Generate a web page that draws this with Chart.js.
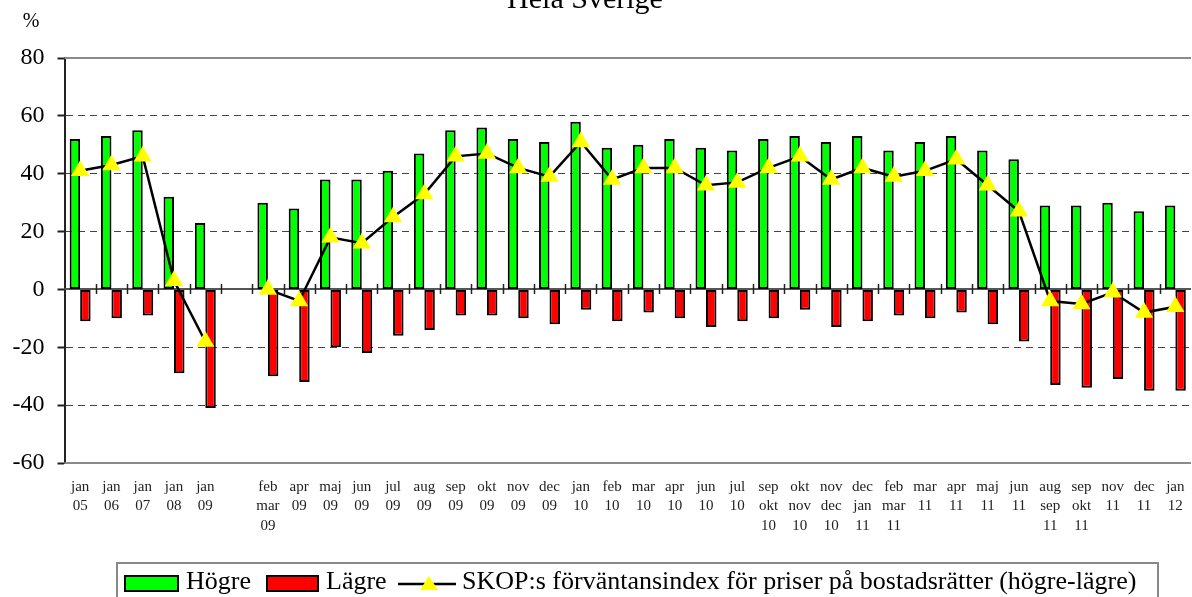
<!DOCTYPE html>
<html>
<head>
<meta charset="utf-8">
<script src="https://cdn.jsdelivr.net/npm/chart.js@4/dist/chart.umd.min.js"></script>
<style>
  html, body { margin: 0; padding: 0; background: #fff; overflow: hidden; }
  #wrap { position: relative; width: 1192px; height: 597px; }
  #legend { position: absolute; left: 116px; top: 562px; width: 1043px; height: 44px;
            border: 2px solid #888; box-sizing: border-box; font-family: "Liberation Serif", "Times New Roman", serif;
            font-size: 26px; color: #000; }
  #legend .box { position: absolute; top: 11px; height: 17px; border: 2px solid #000; box-sizing: border-box; }
  #legend .txt { position: absolute; top: 4px; line-height: 26px; white-space: nowrap; }
</style>
</head>
<body>
<div id="wrap">
  <canvas id="chart"></canvas>
  <div id="legend">
    <div class="box" style="left:6px;width:55px;background:#00FF00"></div>
    <div class="txt" style="left:68px">Högre</div>
    <div class="box" style="left:148px;width:53px;background:#FF0000"></div>
    <div class="txt" style="left:208px">Lägre</div>
    <svg style="position:absolute;left:280px;top:9px" width="60" height="20">
      <line x1="0" y1="11" x2="58" y2="11" stroke="#000" stroke-width="2.5"/>
      <polygon points="31,3 40,17 22,17" fill="#FFFF00"/>
    </svg>
    <div class="txt" style="left:344px">SKOP:s förväntansindex för priser på bostadsrätter (högre-lägre)</div>
  </div>
</div>
<script>
const SERIF = '"Liberation Serif", "Times New Roman", serif';

// Categories (multi-line tick labels); the empty one is the gap in the series
const labels = [
  ['jan', '05'], ['jan', '06'], ['jan', '07'], ['jan', '08'], ['jan', '09'], [''],
  ['feb', 'mar', '09'], ['apr', '09'], ['maj', '09'], ['jun', '09'], ['jul', '09'],
  ['aug', '09'], ['sep', '09'], ['okt', '09'], ['nov', '09'], ['dec', '09'],
  ['jan', '10'], ['feb', '10'], ['mar', '10'], ['apr', '10'], ['jun', '10'], ['jul', '10'],
  ['sep', 'okt', '10'], ['okt', 'nov', '10'], ['nov', 'dec', '10'], ['dec', 'jan', '11'],
  ['feb', 'mar', '11'], ['mar', '11'], ['apr', '11'], ['maj', '11'], ['jun', '11'],
  ['aug', 'sep', '11'], ['sep', 'okt', '11'], ['nov', '11'], ['dec', '11'], ['jan', '12']
];

const hogre = [52, 53, 55, 32, 23, null,
  30, 28, 38, 38, 41, 47, 55, 56, 52, 51,
  58, 49, 50, 52, 49, 48, 52, 53, 51, 53,
  48, 51, 53, 48, 45, 29, 29, 30, 27, 29];

const lagre = [-11, -10, -9, -29, -41, null,
  -30, -32, -20, -22, -16, -14, -9, -9, -10, -12,
  -7, -11, -8, -10, -13, -11, -10, -7, -13, -11,
  -9, -10, -8, -12, -18, -33, -34, -31, -35, -35];

const index = [41, 43, 46, 3, -18, null,
  0, -4, 18, 16, 25, 33, 46, 47, 42, 39,
  51, 38, 42, 42, 36, 37, 42, 46, 38, 42,
  39, 41, 45, 36, 27, -4, -5, -1, -8, -6];

const yTicks = [80, 60, 40, 20, 0, -20, -40, -60];

// solid frame lines (80, 0, -60) and the little ticks on the zero line
const framePlugin = {
    id: 'frame',
    beforeDatasetsDraw(chart) {
        const { ctx, chartArea: a, scales: { y } } = chart;
        ctx.save();
        ctx.lineWidth = 2;
        ctx.strokeStyle = '#8a8a8a';
        [80, -60].forEach(v => {
            const py = Math.round(y.getPixelForValue(v));
            ctx.beginPath();
            ctx.moveTo(a.left, py);
            ctx.lineTo(a.right, py);
            ctx.stroke();
        });
        const z = Math.round(y.getPixelForValue(0));
        ctx.strokeStyle = '#555';
        ctx.beginPath();
        ctx.moveTo(a.left, z);
        ctx.lineTo(a.right, z);
        ctx.stroke();
        const w = (a.right - a.left) / labels.length;
        ctx.strokeStyle = '#222';
        ctx.lineWidth = 1.5;
        for (let i = 1; i < labels.length; i++) {
            const px = Math.round(a.left + i * w) + 0.5;
            ctx.beginPath();
            ctx.moveTo(px, z - 5);
            ctx.lineTo(px, z + 5);
            ctx.stroke();
        }
        ctx.restore();
    },
    afterDraw(chart) {
        const { ctx } = chart;
        ctx.save();
        ctx.fillStyle = '#000';
        ctx.textAlign = 'center';
        ctx.textBaseline = 'alphabetic';
        ctx.font = '30px ' + SERIF;
        ctx.fillText('Hela Sverige', 585, 8);
        ctx.font = '20px ' + SERIF;
        ctx.fillText('%', 31, 27);
        ctx.restore();
    }
};

new Chart(document.getElementById('chart'), {
    data: {
        labels: labels,
        datasets: [
            {
                type: 'line',
                label: 'SKOP:s förväntansindex för priser på bostadsrätter (högre-lägre)',
                data: index,
                order: 0,
                borderColor: '#000',
                borderWidth: 2.5,
                tension: 0,
                spanGaps: false,
                pointStyle: 'triangle',
                pointRadius: 10.5,
                pointBackgroundColor: '#FFFF00',
                pointBorderColor: '#FFFF00',
                pointBorderWidth: 0
            },
            {
                type: 'bar',
                label: 'Högre',
                data: hogre,
                order: 1,
                backgroundColor: '#00FF00',
                borderColor: '#000',
                borderWidth: 2,
                borderSkipped: false,
                categoryPercentage: 0.67,
                barPercentage: 1.0
            },
            {
                type: 'bar',
                label: 'Lägre',
                data: lagre,
                order: 1,
                backgroundColor: '#FF0000',
                borderColor: '#000',
                borderWidth: 2,
                borderSkipped: false,
                categoryPercentage: 0.67,
                barPercentage: 1.0
            }
        ]
    },
    options: {
        responsive: true,
        maintainAspectRatio: false,
        animation: false,
        layout: { autoPadding: false, padding: { top: 58, right: 1, bottom: 0, left: 0 } },
        plugins: {
            legend: { display: false },
            tooltip: { enabled: false }
        },
        scales: {
            x: {
                offset: true,
                grid: { display: false, drawTicks: false },
                border: { display: false },
                ticks: {
                    color: '#222',
                    font: { family: SERIF, size: 15, lineHeight: 1.3 },
                    padding: 14,
                    maxRotation: 0,
                    autoSkip: false
                },
                afterFit: s => {
                    s.height = 134;
                    s.paddingLeft = 0;
                    s.paddingRight = 0;
                }
            },
            y: {
                min: -60,
                max: 80,
                afterBuildTicks: s => { s.ticks = yTicks.map(v => ({ value: v })); },
                grid: {
                    color: c => [80, 0, -60].includes(c.tick.value) ? 'rgba(0,0,0,0)' : '#444',
                    lineWidth: 1,
                    tickColor: '#222',
                    tickWidth: 2,
                    tickLength: 7
                },
                border: { display: true, color: '#222', width: 2, dash: [7, 5] },
                ticks: {
                    color: '#000',
                    font: { family: SERIF, size: 24 },
                    padding: 13
                },
                afterFit: s => { s.width = 64.5; }
            }
        }
    },
    plugins: [framePlugin]
});
</script>
</body>
</html>
